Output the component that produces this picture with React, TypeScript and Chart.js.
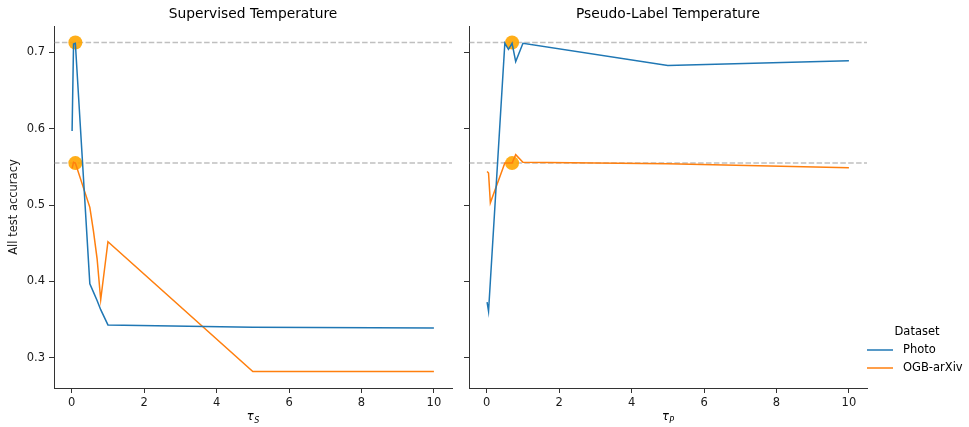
import { useEffect, useRef } from 'react';
import { Chart, registerables } from 'chart.js';

Chart.register(...registerables);

// ---- data ----
const tauValues = [0.01, 0.05, 0.1, 0.5, 0.6, 0.7, 0.8, 1, 5, 10];
const supervisedPhoto = [0.597, 0.711, 0.712, 0.397, 0.386, 0.375, 0.363, 0.343, 0.34, 0.339];
const supervisedArxiv = [0.548, 0.556, 0.555, 0.497, 0.466, 0.43, 0.376, 0.452, 0.282, 0.282];
const pseudoPhoto = [0.373, 0.361, 0.4, 0.712, 0.704, 0.712, 0.688, 0.712, 0.683, 0.689];
const pseudoArxiv = [0.544, 0.542, 0.503, 0.555, 0.555, 0.555, 0.566, 0.556, 0.554, 0.549];
const bestAccuracy = [0.713, 0.555];
const supervisedBestTau = [0.1, 0.1];
const pseudoBestTau = [0.7, 0.7];
const seriesNames = ['Photo', 'OGB-arXiv'];
const panelTitles = ['Supervised Temperature', 'Pseudo-Label Temperature'];
const xTicks = [0, 2, 4, 6, 8, 10];
const yTicks = [0.3, 0.4, 0.5, 0.6, 0.7];

const FONT = "'DejaVu Sans', sans-serif";
const COLORS = ['#1f77b4', '#ff7f0e'];
const W = 969;
const H = 427;

const xMin = -0.4895;
const xMax = 10.4995;
const yMin = 0.2604;
const yMax = 0.7346;

type Panel = {
  title: string;
  photo: number[];
  arxiv: number[];
  bestTau: number[];
  sub: string;
  showY: boolean;
  padLeft: number;
  padRight: number;
  yWidth: number;
  legend: boolean;
};

function makeConfig(p: Panel): any {
  const pts = (ys: number[]) => tauValues.map((x, i) => ({ x, y: ys[i] }));
  const decor = {
    id: 'decor',
    beforeDatasetsDraw(chart: any) {
      const { ctx, chartArea, scales } = chart;
      ctx.save();
      ctx.strokeStyle = 'rgba(128,128,128,0.5)';
      ctx.lineWidth = 1.5;
      ctx.setLineDash([5.5, 2.4]);
      bestAccuracy.forEach((v) => {
        const y = scales.y.getPixelForValue(v);
        ctx.beginPath();
        ctx.moveTo(chartArea.left, y);
        ctx.lineTo(chartArea.right, y);
        ctx.stroke();
      });
      ctx.restore();
    },
    afterDraw(chart: any) {
      const { ctx, chartArea } = chart;
      const cx = (chartArea.left + chartArea.right) / 2;
      ctx.save();
      ctx.fillStyle = '#000';
      ctx.font = `13.8px ${FONT}`;
      ctx.textAlign = 'center';
      ctx.textBaseline = 'middle';
      ctx.fillText(p.title, cx, 14);
      // axis label tau_sub
      ctx.font = `italic 11.5px ${FONT}`;
      ctx.textBaseline = 'alphabetic';
      const tw = ctx.measureText('τ').width;
      ctx.font = `italic 8px ${FONT}`;
      const sw = ctx.measureText(p.sub).width;
      const start = cx - (tw + sw + 0.5) / 2;
      ctx.textAlign = 'left';
      ctx.font = `italic 11.5px ${FONT}`;
      ctx.fillText('τ', start, 420);
      ctx.font = `italic 8px ${FONT}`;
      ctx.fillText(p.sub, start + tw + 0.5, 423);
      if (p.legend) {
        ctx.font = `11.5px ${FONT}`;
        ctx.textAlign = 'center';
        ctx.textBaseline = 'middle';
        ctx.fillText('Dataset', 917, 332);
        seriesNames.forEach((name, i) => {
          const y = 350 + i * 18;
          ctx.strokeStyle = COLORS[i];
          ctx.lineWidth = 1.5;
          ctx.beginPath();
          ctx.moveTo(867, y);
          ctx.lineTo(893, y);
          ctx.stroke();
          ctx.textAlign = 'left';
          ctx.fillText(name, 903, y);
        });
      }
      ctx.restore();
    },
  };

  return {
    type: 'line',
    data: {
      datasets: [
        {
          label: seriesNames[0],
          data: pts(p.photo),
          borderColor: COLORS[0],
          borderWidth: 1.5,
          pointRadius: 0,
          tension: 0,
          order: 1,
        },
        {
          label: seriesNames[1],
          data: pts(p.arxiv),
          borderColor: COLORS[1],
          borderWidth: 1.5,
          pointRadius: 0,
          tension: 0,
          order: 1,
        },
        {
          label: 'best',
          type: 'scatter',
          data: bestAccuracy.map((v, i) => ({ x: p.bestTau[i], y: v })),
          backgroundColor: 'rgba(255,165,0,0.9)',
          borderWidth: 0,
          pointRadius: 7,
          order: 10,
        },
      ],
    },
    options: {
      responsive: false,
      animation: false,
      events: [],
      layout: { padding: { left: p.padLeft, right: p.padRight, top: 26, bottom: 0 } },
      plugins: { legend: { display: false }, tooltip: { enabled: false }, title: { display: false } },
      scales: {
        x: {
          type: 'linear',
          min: xMin,
          max: xMax,
          bounds: 'data',
          afterBuildTicks: (s: any) => {
            s.ticks = xTicks.map((v) => ({ value: v }));
          },
          afterFit: (s: any) => {
            s.height = 39;
          },
          grid: { display: true, drawOnChartArea: false, drawTicks: true, tickLength: 5, color: '#333', lineWidth: 1 },
          border: { display: true, color: '#333', width: 1 },
          ticks: { autoSkip: false, maxRotation: 0, padding: 3, color: '#1a1a1a', font: { family: FONT, size: 11.5 }, callback: (v: any) => String(v) },
        },
        y: {
          type: 'linear',
          min: yMin,
          max: yMax,
          bounds: 'data',
          afterBuildTicks: (s: any) => {
            s.ticks = yTicks.map((v) => ({ value: v }));
          },
          afterFit: (s: any) => {
            s.width = p.yWidth;
          },
          grid: { display: true, drawOnChartArea: false, drawTicks: true, tickLength: 5, color: '#333', lineWidth: 1 },
          border: { display: true, color: '#333', width: 1 },
          ticks: {
            autoSkip: false,
            padding: 4,
            color: '#1a1a1a',
            font: { family: FONT, size: 11.5 },
            callback: (v: any) => (p.showY ? Number(v).toFixed(1) : ''),
          },
          title: {
            display: p.showY,
            text: 'All test accuracy',
            color: '#1a1a1a',
            font: { family: FONT, size: 11.5 },
            padding: { top: 7, bottom: 0 },
          },
        },
      },
    },
    plugins: [decor],
  };
}

const panels: Panel[] = [
  {
    title: panelTitles[0],
    photo: supervisedPhoto,
    arxiv: supervisedArxiv,
    bestTau: supervisedBestTau,
    sub: 'S',
    showY: true,
    padLeft: 0,
    padRight: W - 452,
    yWidth: 54,
    legend: false,
  },
  {
    title: panelTitles[1],
    photo: pseudoPhoto,
    arxiv: pseudoArxiv,
    bestTau: pseudoBestTau,
    sub: 'P',
    showY: false,
    padLeft: 459,
    padRight: W - 867,
    yWidth: 10,
    legend: true,
  },
];

export default function App() {
  const ref0 = useRef<HTMLCanvasElement>(null);
  const ref1 = useRef<HTMLCanvasElement>(null);
  useEffect(() => {
    const charts = [ref0, ref1].map((r, i) => new Chart(r.current as HTMLCanvasElement, makeConfig(panels[i])));
    return () => charts.forEach((c) => c.destroy());
  }, []);
  const style: any = { position: 'absolute', left: 0, top: 0, width: W, height: H };
  return (
    <div style={{ position: 'absolute', left: 0, top: 0, width: W, height: H, background: '#fff' }}>
      <canvas ref={ref0} width={W} height={H} style={style} />
      <canvas ref={ref1} width={W} height={H} style={style} />
    </div>
  );
}
